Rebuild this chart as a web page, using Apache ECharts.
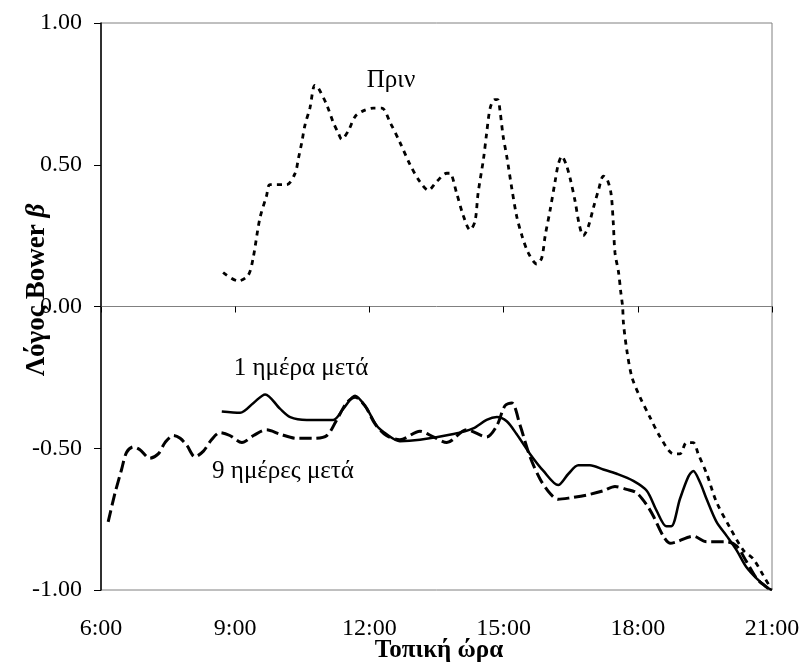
<!DOCTYPE html>
<html>
<head>
<meta charset="utf-8">
<script src="https://cdn.jsdelivr.net/npm/echarts@6/dist/echarts.min.js"></script>
<style>html,body{margin:0;padding:0;background:#fff}#c{width:804px;height:664px}</style>
</head>
<body>
<div id="c"></div>
<script>
// ---- data (time in decimal hours, value = Bower ratio) ----
const xTicks = [6, 9, 12, 15, 18, 21];
const yTicks = [-1, -0.5, 0, 0.5, 1];

const beforeName = 'Πριν';
const beforeTime = [8.73,9.07,9.29,9.40,9.55,9.70,9.78,10.15,10.34,10.41,10.49,10.56,10.67,10.78,10.86,11.05,11.19,11.31,11.38,11.53,11.68,11.86,12.09,12.28,12.46,12.68,12.91,13.13,13.32,13.50,13.73,13.80,13.95,14.10,14.25,14.36,14.43,14.55,14.62,14.70,14.80,14.87,14.92,14.99,15.07,15.18,15.29,15.41,15.55,15.74,15.85,15.93,16.04,16.15,16.22,16.30,16.40,16.49,16.60,16.69,16.78,16.89,17.01,17.12,17.23,17.31,17.40,17.45,17.49,17.57,17.62,17.66,17.68,17.76,17.87,18.05,18.27,18.50,18.80,18.94,19.09,19.24,19.35,19.54,19.76,20.06,20.36,20.58,20.81,20.96];
const beforeVal  = [0.12,0.09,0.11,0.17,0.31,0.39,0.43,0.43,0.47,0.52,0.58,0.64,0.70,0.78,0.77,0.71,0.65,0.61,0.59,0.62,0.67,0.69,0.70,0.70,0.65,0.58,0.50,0.44,0.41,0.44,0.47,0.47,0.40,0.32,0.27,0.30,0.40,0.52,0.61,0.70,0.73,0.73,0.69,0.60,0.53,0.42,0.32,0.25,0.19,0.15,0.17,0.25,0.34,0.44,0.50,0.53,0.50,0.45,0.37,0.29,0.25,0.28,0.35,0.41,0.46,0.45,0.40,0.30,0.19,0.12,0.05,0.00,-0.06,-0.16,-0.25,-0.32,-0.39,-0.46,-0.52,-0.52,-0.48,-0.48,-0.52,-0.59,-0.69,-0.78,-0.86,-0.89,-0.95,-0.99];

const day1Name = '1 ημέρα μετά';
const day1Time = [8.70,9.11,9.41,9.67,10.00,10.23,10.60,11.19,11.42,11.68,11.94,12.16,12.38,12.68,13.13,13.88,14.32,14.62,14.85,15.07,15.29,15.59,15.89,16.22,16.45,16.67,16.93,17.23,17.53,17.90,18.20,18.42,18.64,18.75,18.94,19.13,19.24,19.39,19.54,19.76,19.99,20.21,20.43,20.66,20.88,21.00];
const day1Val  = [-0.37,-0.375,-0.34,-0.31,-0.36,-0.39,-0.40,-0.40,-0.36,-0.315,-0.36,-0.42,-0.45,-0.475,-0.47,-0.45,-0.43,-0.40,-0.39,-0.405,-0.45,-0.52,-0.58,-0.63,-0.59,-0.56,-0.56,-0.575,-0.59,-0.615,-0.65,-0.72,-0.775,-0.775,-0.68,-0.60,-0.58,-0.62,-0.68,-0.76,-0.81,-0.86,-0.92,-0.96,-0.99,-1.00];

const day9Name = '9 ημέρες μετά';
const day9Time = [6.16,6.31,6.46,6.57,6.72,6.87,7.09,7.28,7.43,7.62,7.77,7.92,8.10,8.29,8.47,8.66,8.88,9.15,9.41,9.70,10.00,10.38,10.75,11.05,11.27,11.49,11.68,11.90,12.13,12.38,12.68,13.13,13.43,13.73,14.17,14.62,14.85,15.03,15.18,15.37,15.59,15.82,16.04,16.22,16.49,16.86,17.23,17.49,17.75,17.97,18.20,18.35,18.57,18.72,18.87,19.24,19.54,19.99,20.21,20.43,20.66,20.88,20.96];
const day9Val  = [-0.76,-0.66,-0.575,-0.515,-0.495,-0.505,-0.535,-0.52,-0.48,-0.455,-0.465,-0.49,-0.53,-0.51,-0.47,-0.445,-0.455,-0.48,-0.455,-0.435,-0.45,-0.465,-0.465,-0.455,-0.40,-0.34,-0.32,-0.35,-0.415,-0.455,-0.47,-0.44,-0.46,-0.48,-0.435,-0.46,-0.42,-0.35,-0.34,-0.42,-0.53,-0.61,-0.66,-0.68,-0.675,-0.665,-0.65,-0.635,-0.645,-0.657,-0.70,-0.74,-0.81,-0.835,-0.83,-0.81,-0.83,-0.83,-0.845,-0.90,-0.96,-0.99,-1.00];

const xTitle = 'Τοπική ώρα';
const yTitle = 'Λόγος Bower ';
const yTitleSym = 'β';

function pairs(t, v) { return t.map((x, i) => [x, v[i]]); }

const SERIF = '"Liberation Serif", "Times New Roman", serif';
const chart = echarts.init(document.getElementById('c'), null, {renderer: 'canvas'});

chart.setOption({
  animation: false,
  backgroundColor: '#fff',
  grid: {left: 101, right: 32, top: 23, bottom: 74, show: true, borderColor: '#808080', borderWidth: 1, backgroundColor: 'transparent'},
  xAxis: [
    {
      type: 'value', min: 6, max: 21, interval: 3, position: 'bottom',
      axisLine: {show: true, onZero: true, lineStyle: {color: '#808080', width: 1}},
      axisTick: {show: true, inside: false, length: 6, lineStyle: {color: '#000'}},
      axisLabel: {show: false},
      splitLine: {show: false}
    },
    {
      type: 'value', min: 6, max: 21, interval: 3, position: 'bottom',
      axisLine: {show: false, onZero: false},
      axisTick: {show: false},
      axisLabel: {show: true, margin: 27, fontFamily: SERIF, fontSize: 24, color: '#000',
        formatter: v => xTicks.includes(v) ? (v + ':00') : ''},
      splitLine: {show: false}
    }
  ],
  yAxis: {
    type: 'value', min: -1, max: 1, interval: 0.5,
    axisLine: {show: true, onZero: false, lineStyle: {color: '#000', width: 1.5}},
    axisTick: {show: true, inside: false, length: 7, lineStyle: {color: '#000'}},
    axisLabel: {margin: 19, fontFamily: SERIF, fontSize: 24, color: '#000',
      formatter: v => yTicks.includes(v) ? v.toFixed(2) : ''},
    splitLine: {show: false}
  },
  series: [
    {name: beforeName, type: 'line', xAxisIndex: 0, data: pairs(beforeTime, beforeVal), smooth: 0.3,
     showSymbol: false, lineStyle: {color: '#000', width: 2.8, type: [5, 5]}},
    {name: day1Name, type: 'line', xAxisIndex: 0, data: pairs(day1Time, day1Val), smooth: 0.3,
     showSymbol: false, lineStyle: {color: '#000', width: 2.5, type: 'solid'}},
    {name: day9Name, type: 'line', xAxisIndex: 0, data: pairs(day9Time, day9Val), smooth: 0.3,
     showSymbol: false, lineStyle: {color: '#000', width: 3, type: [12, 5]}}
  ],
  graphic: [
    {type: 'text', x: 391, y: 80, style: {text: beforeName, font: '25px ' + SERIF, fill: '#000', align: 'center', verticalAlign: 'middle'}},
    {type: 'text', x: 301, y: 368, style: {text: day1Name, font: '25px ' + SERIF, fill: '#000', align: 'center', verticalAlign: 'middle'}},
    {type: 'text', x: 283, y: 471, style: {text: day9Name, font: '25px ' + SERIF, fill: '#000', align: 'center', verticalAlign: 'middle'}},
    {type: 'text', x: 439, y: 651, style: {text: xTitle, font: 'bold 25px ' + SERIF, fill: '#000', align: 'center', verticalAlign: 'middle'}},
    {type: 'text', x: 37, y: 290, rotation: Math.PI / 2,
     style: {text: '{n|' + yTitle + '}{s|' + yTitleSym + '}', align: 'center', verticalAlign: 'middle',
       rich: {n: {font: 'bold 27px ' + SERIF, fill: '#000'}, s: {font: 'italic bold 27px ' + SERIF, fill: '#000'}}}}
  ]
});
</script>
</body>
</html>
